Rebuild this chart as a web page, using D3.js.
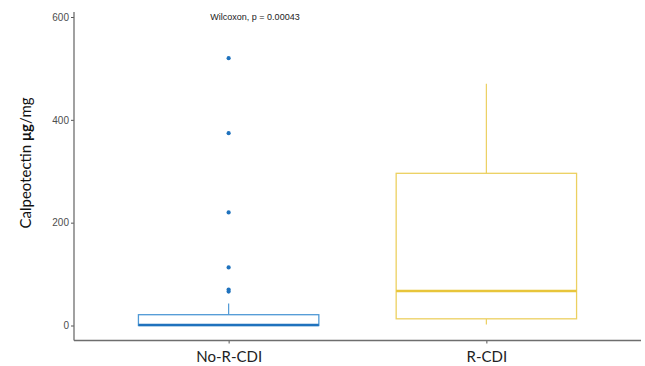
<!DOCTYPE html>
<html>
<head>
<meta charset="utf-8">
<script src="https://cdn.jsdelivr.net/npm/d3@7"></script>
<style>
  body { margin: 0; background: #fff; }
  svg { display: block; }
</style>
</head>
<body>
<svg id="chart" width="645" height="366"></svg>
<script>
// groups and box statistics
const groups = ["No-R-CDI", "R-CDI"];
const whiskerLow = [0, 2];
const q1 = [0, 13];
const medians = [1, 67];
const q3 = [21, 296];
const whiskerHigh = [43, 470];
const outliers = [[520, 374, 220, 113, 70, 66], []];
const yTicks = [0, 200, 400, 600];
const colors = ["#4f99d6", "#ecd060"];
const outlierColor = "#1f72bd";
const note = "Wilcoxon, p = 0.00043";

const svg = d3.select("#chart");
const left = 74, right = 641, axisY = 340.5;

const x = d3.scalePoint().domain(groups).range([left, right]).padding(0.6);
const y = d3.scaleLinear().domain([0, 600]).range([325.5, 17]);
const boxW = x.step() * 0.7;

// y axis
const yAxis = svg.append("g")
  .attr("transform", "translate(" + left + ",0)")
  .call(d3.axisLeft(y).tickValues(yTicks).tickSize(3).tickPadding(2));
yAxis.select(".domain").remove();
yAxis.selectAll(".tick line").attr("stroke", "#555");
yAxis.selectAll(".tick text")
  .attr("fill", "#4d4d4d")
  .style("font-family", "Liberation Sans, Arial, sans-serif")
  .style("font-size", "10px");
svg.append("line")
  .attr("x1", left).attr("x2", left).attr("y1", 12).attr("y2", axisY)
  .attr("stroke", "#6e6e6e").attr("stroke-width", 1.3);

// x axis
const xAxis = svg.append("g")
  .attr("transform", "translate(0," + axisY + ")")
  .call(d3.axisBottom(x).tickSize(3).tickPadding(8));
xAxis.select(".domain").remove();
xAxis.selectAll(".tick line").attr("stroke", "#555");
xAxis.selectAll(".tick text")
  .attr("fill", "#222")
  .attr("dy", "0.71em")
  .style("font-family", "Lato, 'Open Sans', sans-serif")
  .style("font-size", "15px");
svg.append("line")
  .attr("x1", left).attr("x2", right).attr("y1", axisY).attr("y2", axisY)
  .attr("stroke", "#6e6e6e").attr("stroke-width", 1.3);

// boxes
const boxes = svg.append("g").selectAll("g")
  .data(groups)
  .join("g");

boxes.append("line")
  .attr("x1", d => x(d)).attr("x2", d => x(d))
  .attr("y1", (d, i) => y(q3[i])).attr("y2", (d, i) => y(whiskerHigh[i]))
  .attr("stroke", (d, i) => colors[i]).attr("stroke-width", 1.2);
boxes.append("line")
  .attr("x1", d => x(d)).attr("x2", d => x(d))
  .attr("y1", (d, i) => y(q1[i])).attr("y2", (d, i) => y(whiskerLow[i]))
  .attr("stroke", (d, i) => colors[i]).attr("stroke-width", 1.2);
boxes.append("rect")
  .attr("x", d => x(d) - boxW / 2)
  .attr("width", boxW)
  .attr("y", (d, i) => y(q3[i]))
  .attr("height", (d, i) => y(q1[i]) - y(q3[i]))
  .attr("fill", "#fff")
  .attr("stroke", (d, i) => colors[i]).attr("stroke-width", 1.3);
boxes.append("line")
  .attr("x1", d => x(d) - boxW / 2).attr("x2", d => x(d) + boxW / 2)
  .attr("y1", (d, i) => y(medians[i])).attr("y2", (d, i) => y(medians[i]))
  .attr("stroke", (d, i) => i === 0 ? outlierColor : "#e8c53a")
  .attr("stroke-width", 2.4);

// outliers
boxes.selectAll("circle")
  .data((d, i) => outliers[i].map(v => ({ g: d, v: v })))
  .join("circle")
  .attr("cx", d => x(d.g))
  .attr("cy", d => y(d.v))
  .attr("r", 2.1)
  .attr("fill", outlierColor);

// y label
svg.append("text")
  .attr("transform", "translate(31,163) rotate(-90)")
  .attr("text-anchor", "middle")
  .attr("fill", "#111")
  .style("font-family", "Lato, 'Open Sans', sans-serif")
  .style("font-size", "15px")
  .text("Calpeotectin ")
  .append("tspan").attr("font-weight", "bold").text("μg")
  .select(function () { return this.parentNode; })
  .append("tspan").text("/mg");

// test annotation
svg.append("text")
  .attr("x", 255).attr("y", 20)
  .attr("text-anchor", "middle")
  .attr("fill", "#222")
  .style("font-family", "Liberation Sans, Arial, sans-serif")
  .style("font-size", "9px")
  .text(note);
</script>
</body>
</html>
